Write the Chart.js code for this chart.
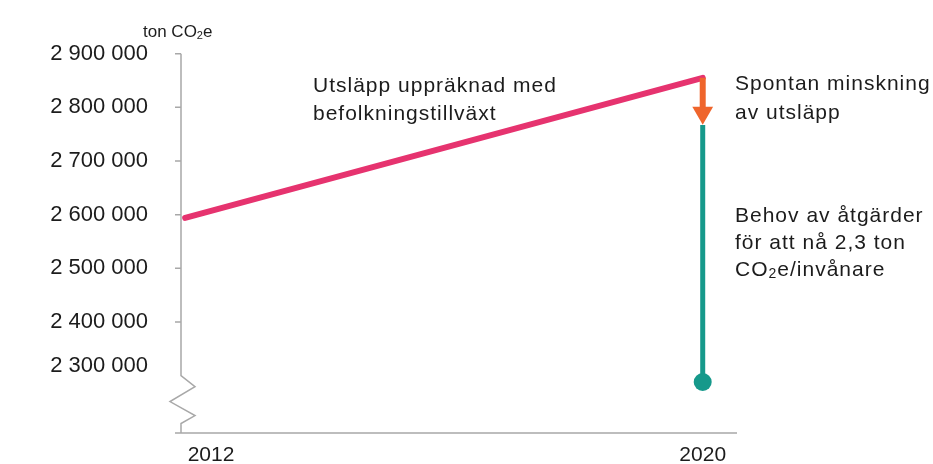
<!DOCTYPE html>
<html>
<head>
<meta charset="utf-8">
<script src="https://cdn.jsdelivr.net/npm/chart.js@4"></script>
<style>
  html, body { margin: 0; padding: 0; background: #fff; }
  #wrap { width: 933px; height: 464px; }
</style>
</head>
<body>
<div id="wrap"><canvas id="chart" width="933" height="464"></canvas></div>
<script>
// data
const years = [2012, 2020];
const projectedEmissions = [2594000, 2855000];   // utsläpp uppräknad med befolkningstillväxt
const spontaneousDrop = [2855000, 2790000];      // spontan minskning (arrow)
const measuresNeeded = [2767000, 2288000];       // behov av åtgärder
const yTicks = [2900000, 2800000, 2700000, 2600000, 2500000, 2400000, 2300000];
const yTickLabels = ['2 900 000', '2 800 000', '2 700 000', '2 600 000', '2 500 000', '2 400 000', '2 300 000'];
const xTickLabels = ['2012', '2020'];

const PINK = '#e6336f';
const ORANGE = '#ef652c';
const TEAL = '#16998b';
const AXIS = '#a8a8a8';
const TEXT = '#1c1c1c';
const FONT = '"Liberation Sans", Arial, sans-serif';

function pts(xs, ys) {
  return ys.map((y, i) => ({ x: xs[Math.min(i, xs.length - 1)], y: y }));
}

// draws the axis lines, the break zigzag and the annotations
const decor = {
  id: 'decor',
  afterDraw(chart) {
    const ctx = chart.ctx;
    const ys = chart.scales.y;
    const ax = chart.chartArea.left + 1;
    const top = ys.getPixelForValue(yTicks[0]);
    const brk = ys.getPixelForValue(yTicks[yTicks.length - 1]);
    const bottom = chart.chartArea.bottom;

    ctx.save();
    ctx.strokeStyle = AXIS;
    ctx.lineWidth = 1.5;
    ctx.beginPath();
    ctx.moveTo(ax, top);
    ctx.lineTo(ax, brk);
    ctx.lineTo(ax + 14, brk + 11);
    ctx.lineTo(ax - 11, brk + 26);
    ctx.lineTo(ax + 14, brk + 40);
    ctx.lineTo(ax, brk + 48);
    ctx.lineTo(ax, bottom);
    // x axis
    ctx.moveTo(ax - 6, bottom);
    ctx.lineTo(chart.chartArea.right, bottom);
    // y tick marks (none at the break)
    yTicks.slice(0, -1).forEach(v => {
      const p = ys.getPixelForValue(v);
      ctx.moveTo(ax - 6, p);
      ctx.lineTo(ax, p);
    });
    ctx.stroke();

    // text
    ctx.fillStyle = TEXT;
    ctx.textAlign = 'left';
    ctx.textBaseline = 'middle';

    function sub(x, y, parts, size) {
      // parts: [text, isSubscript]
      parts.forEach(([t, s]) => {
        ctx.font = (s ? Math.round(size * 0.65) : size) + 'px ' + FONT;
        ctx.fillText(t, x, y + (s ? size * 0.22 : 0));
        x += ctx.measureText(t).width;
      });
    }

    sub(143, 32, [['ton CO', false], ['2', true], ['e', false]], 17);

    ctx.letterSpacing = '1px';
    ctx.font = '21px ' + FONT;
    ctx.fillText('Utsläpp uppräknad med', 313, 86);
    ctx.fillText('befolkningstillväxt', 313, 114);
    ctx.fillText('Spontan minskning', 735, 84);
    ctx.fillText('av utsläpp', 735, 113);
    ctx.fillText('Behov av åtgärder', 735, 216);
    ctx.fillText('för att nå 2,3 ton', 735, 243);
    sub(735, 270, [['CO', false], ['2', true], ['e/invånare', false]], 21);
    ctx.restore();
  }
};

new Chart(document.getElementById('chart').getContext('2d'), {
  type: 'line',
  data: {
    datasets: [
      {
        label: 'Spontan minskning',
        data: pts([2020], spontaneousDrop),
        borderColor: ORANGE,
        backgroundColor: ORANGE,
        borderWidth: 6,
        pointStyle: 'triangle',
        pointRotation: 180,
        pointRadius: [0, 12],
        pointBorderWidth: 0
      },
      {
        label: 'Behov av åtgärder',
        data: pts([2020], measuresNeeded),
        borderColor: TEAL,
        backgroundColor: TEAL,
        borderWidth: 5,
        pointRadius: [0, 9],
        pointBorderWidth: 0
      },
      {
        label: 'Utsläpp uppräknad med befolkningstillväxt',
        data: pts(years, projectedEmissions),
        borderColor: PINK,
        borderWidth: 6,
        borderCapStyle: 'round',
        pointRadius: 0
      }
    ]
  },
  options: {
    responsive: false,
    animation: false,
    devicePixelRatio: 1,
    layout: { padding: { left: 0, top: 43, right: 196, bottom: 0 } },
    plugins: { legend: { display: false }, tooltip: { enabled: false } },
    scales: {
      x: {
        type: 'linear',
        min: 2011.92,
        max: 2020.53,
        grid: { display: false, drawTicks: false },
        border: { display: false },
        afterFit(scale) {
          scale.height = 31;
          scale.paddingLeft = 0;
          scale.paddingRight = 0;
        },
        // the 2012 label sits a bit right of where the line starts
        afterBuildTicks(scale) {
          scale.ticks = years.map((v, i) => ({ value: i === 0 ? v + 0.4 : v }));
        },
        ticks: {
          autoSkip: false,
          maxRotation: 0,
          padding: 10,
          color: TEXT,
          font: { family: FONT, size: 21 },
          callback: (v, i) => xTickLabels[i]
        }
      },
      y: {
        min: 2192900,
        max: 2920000,
        grid: { display: false, drawTicks: false },
        border: { display: false },
        afterFit(scale) {
          scale.width = 180;
          scale.paddingTop = 0;
          scale.paddingBottom = 0;
        },
        // lowest label is lifted off the axis break
        afterBuildTicks(scale) {
          scale.ticks = yTicks.map((v, i) => ({ value: i === yTicks.length - 1 ? v + 18000 : v }));
        },
        ticks: {
          autoSkip: false,
          padding: 32,
          color: TEXT,
          font: { family: FONT, size: 22 },
          callback: (v, i) => yTickLabels[i]
        }
      }
    }
  },
  plugins: [decor]
});
</script>
</body>
</html>
